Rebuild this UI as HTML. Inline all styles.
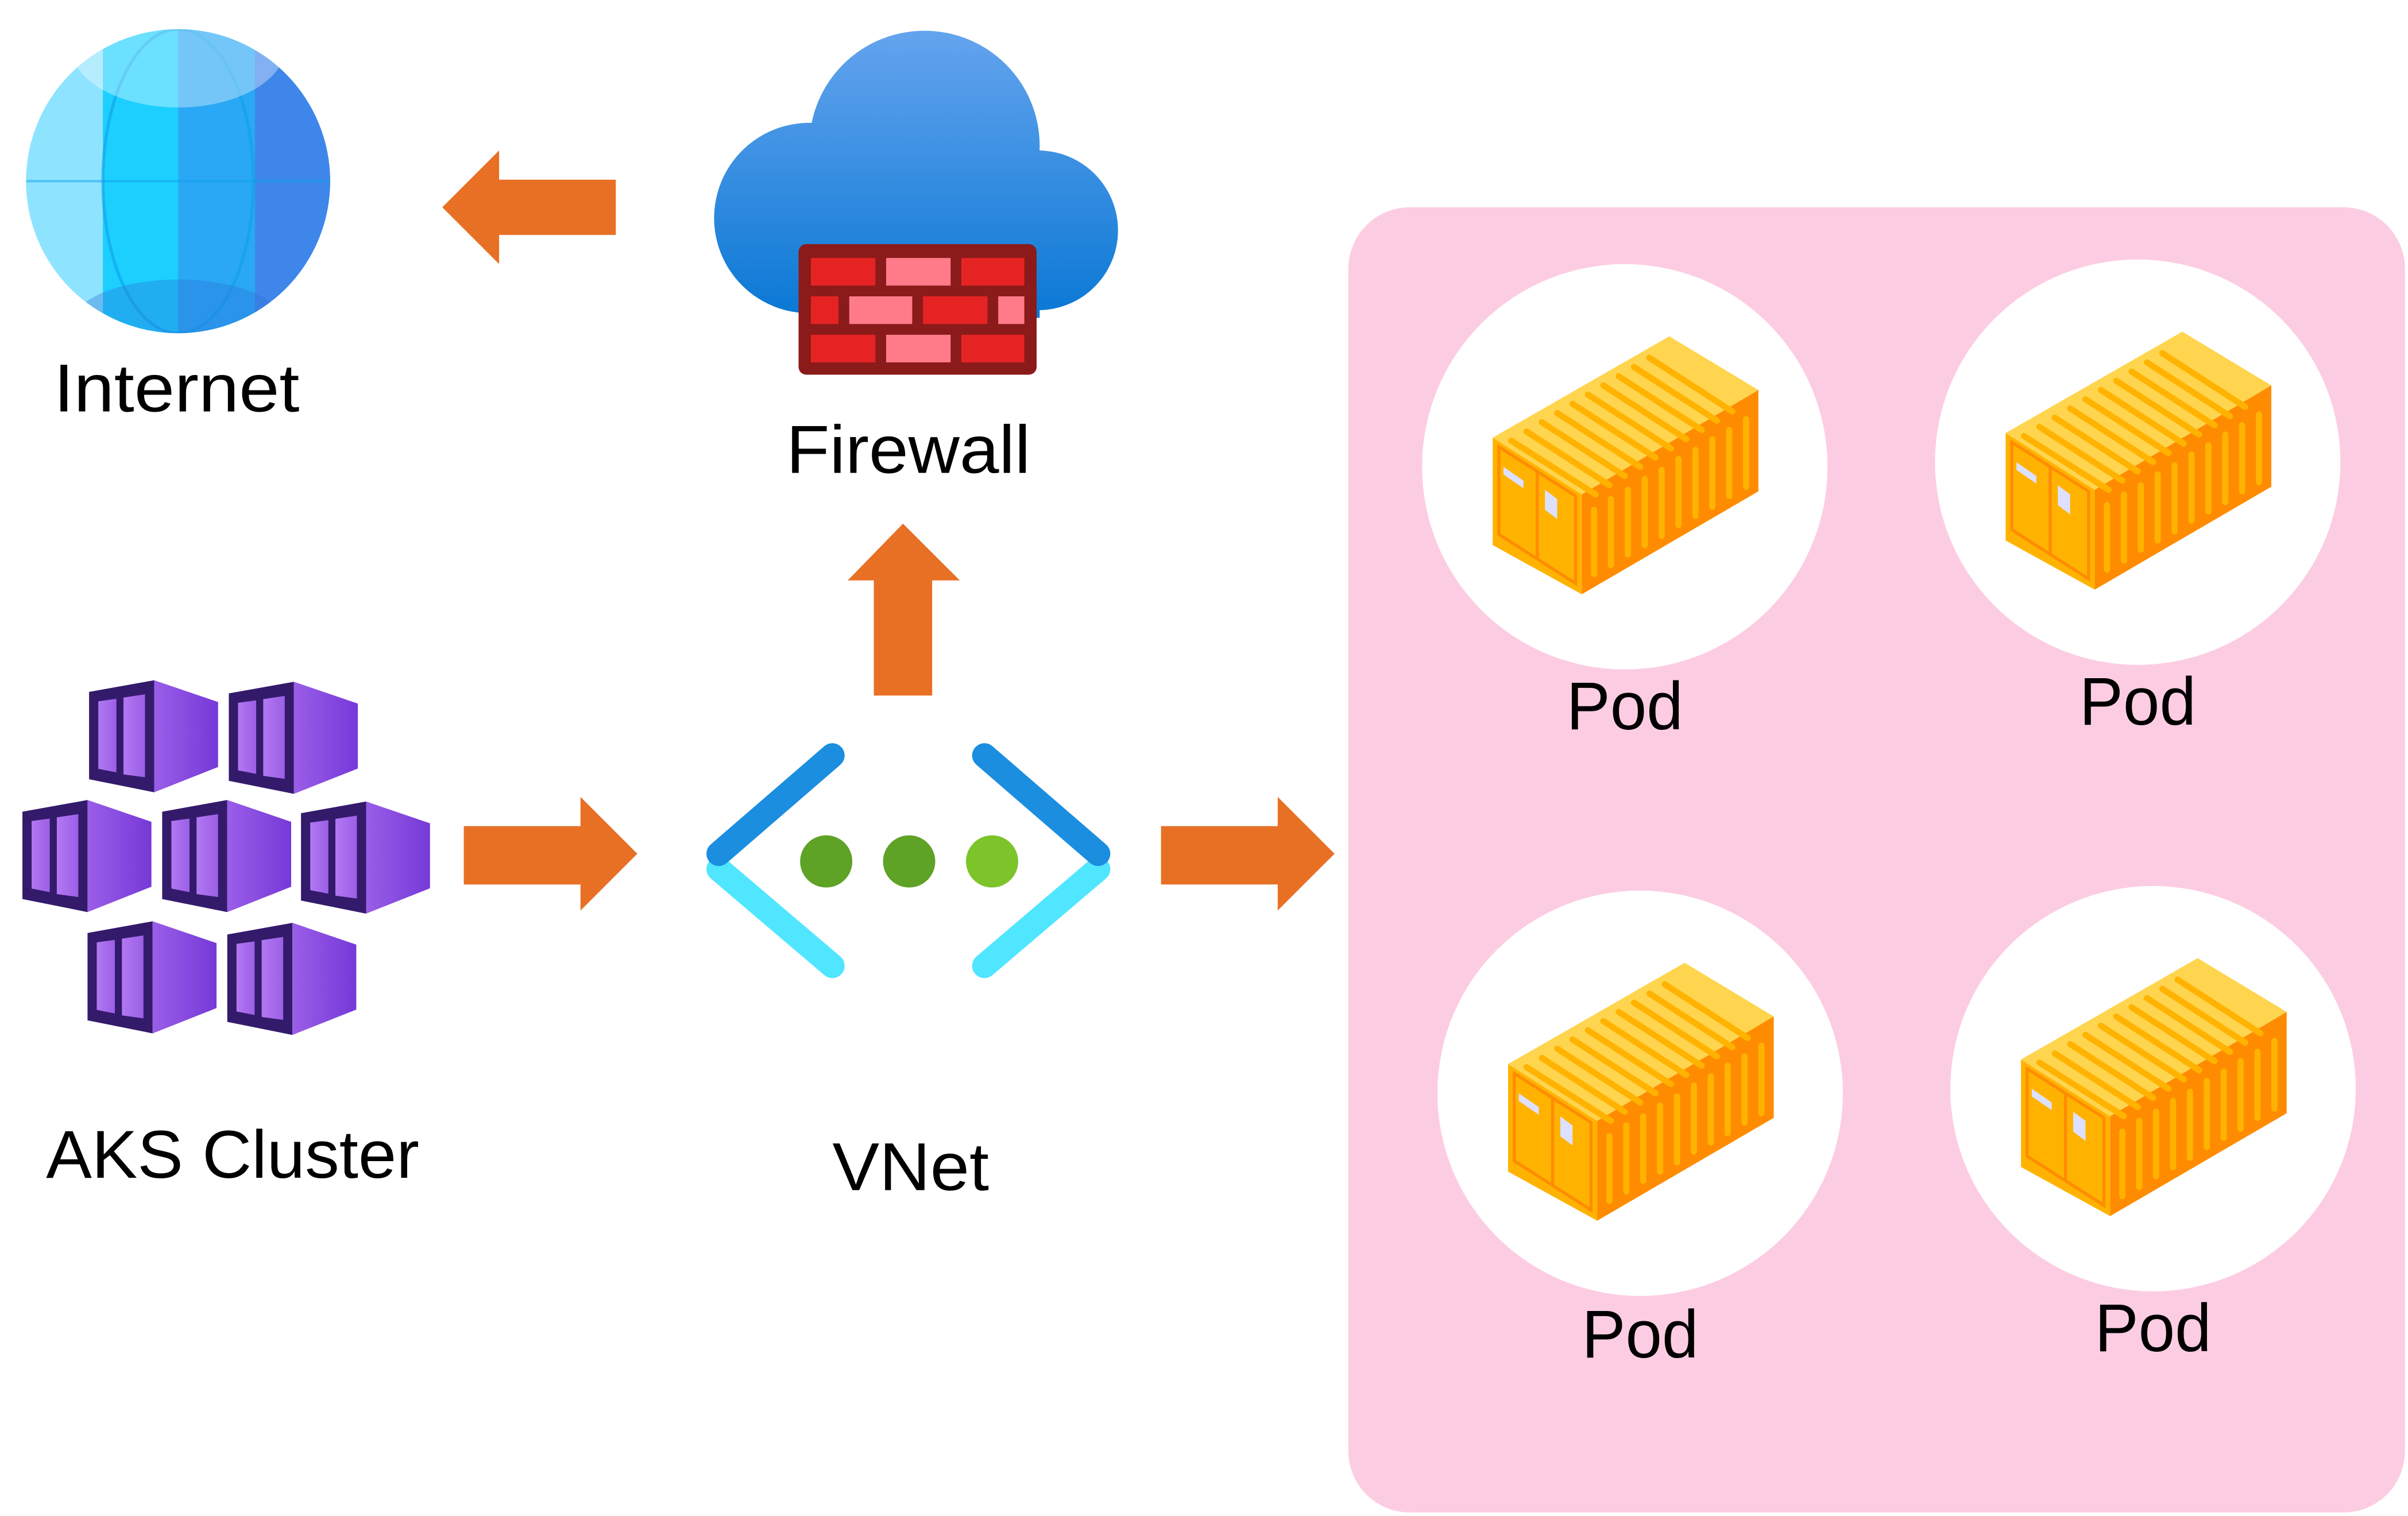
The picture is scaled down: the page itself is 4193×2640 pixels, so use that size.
<!DOCTYPE html>
<html><head><meta charset="utf-8"><style>
html,body{margin:0;padding:0;background:#fff;}
svg{display:block;}
text{font-family:"Liberation Sans",sans-serif;fill:#000;}
</style></head><body>
<svg width="4193" height="2640" viewBox="0 0 1568 987.3" preserveAspectRatio="none" xmlns="http://www.w3.org/2000/svg">
<defs>
<linearGradient id="cloudg" gradientUnits="userSpaceOnUse" x1="0" y1="20" x2="0" y2="207"><stop offset="0" stop-color="#64a4ee"/><stop offset="1" stop-color="#0a78d4"/></linearGradient>
<linearGradient id="sideg" x1="0" y1="0" x2="1" y2="0"><stop offset="0" stop-color="#9a5ee8"/><stop offset="1" stop-color="#7639d8"/></linearGradient>
<linearGradient id="wing" x1="0" y1="0" x2="1" y2="0"><stop offset="0" stop-color="#b278f2"/><stop offset="1" stop-color="#9b5fe6"/></linearGradient>
<clipPath id="gc"><circle cx="116" cy="118" r="99"/></clipPath>
<g id="cube">
<polygon points="0,7.6 42.4,0 42.4,73 0,64.5" fill="#341a6b"/>
<polygon points="42.4,0 84,14.2 84,56.5 42.4,73" fill="url(#sideg)"/>
<polygon points="6,13.7 17.8,12.1 17.8,60 6,57.7" fill="url(#wing)"/>
<polygon points="22.4,11.3 36.4,9.2 36.4,63.2 22.4,61.3" fill="url(#wing)"/>
</g>
<g id="box">
<polygon points="-86,-19 29,-85 87,-50 -28,18" fill="#ffd54f"/>
<polygon points="-28,18 87,-50 87,16 -28,83" fill="#ff8c00"/>
<polygon points="-86,-19 -28,18 -28,83 -86,51" fill="#ffb300"/>
<polygon points="-82,-13 -32,19 -32,76 -82,44" fill="none" stroke="#ff8c00" stroke-width="2"/>
<line x1="-57" y1="3" x2="-57" y2="60" stroke="#ff8c00" stroke-width="2"/>
<g stroke="#ffb300" stroke-width="4" stroke-linecap="round">
<line x1="-74" y1="-17" x2="-19" y2="18"/><line x1="-64" y1="-23" x2="-10" y2="12"/>
<line x1="-54" y1="-29" x2="0" y2="6"/><line x1="-44" y1="-35" x2="10" y2="0"/>
<line x1="-34" y1="-41" x2="20" y2="-6"/><line x1="-24" y1="-47" x2="30" y2="-12"/>
<line x1="-14" y1="-53" x2="40" y2="-18"/><line x1="-4" y1="-59" x2="50" y2="-24"/>
<line x1="6" y1="-65" x2="60" y2="-30"/><line x1="16" y1="-71" x2="70" y2="-36"/>
<line x1="-20" y1="28" x2="-20" y2="70"/><line x1="-9" y1="21" x2="-9" y2="64"/>
<line x1="2" y1="15" x2="2" y2="57"/><line x1="13" y1="8" x2="13" y2="51"/>
<line x1="24" y1="2" x2="24" y2="45"/><line x1="35" y1="-5" x2="35" y2="38"/>
<line x1="46" y1="-11" x2="46" y2="32"/><line x1="57" y1="-18" x2="57" y2="26"/>
<line x1="68" y1="-24" x2="68" y2="19"/><line x1="79" y1="-31" x2="79" y2="13"/>
</g>
<polygon points="-79,0 -66,9 -66,14 -79,5" fill="#dde0ff"/>
<polygon points="-52,15 -44,21 -44,34 -52,28" fill="#dde0ff"/>
</g>
</defs>

<!-- Globe -->
<g clip-path="url(#gc)">
<rect x="17" y="19" width="200" height="200" fill="#1ccfff"/>
<rect x="17" y="19" width="50" height="200" fill="#8ee4ff"/>
<rect x="116" y="19" width="50" height="200" fill="#2aa8f5"/>
<rect x="166" y="19" width="51" height="200" fill="#3f86ea"/>
<ellipse cx="116" cy="118" rx="49" ry="99" fill="none" stroke="#0fa0e8" stroke-width="2" opacity="0.6"/>
<ellipse cx="116" cy="30" rx="70" ry="40" fill="#ffffff" opacity="0.35"/>
<ellipse cx="116" cy="212" rx="70" ry="30" fill="#2b6fd8" opacity="0.35"/>
<line x1="17" y1="118" x2="216" y2="118" stroke="#0fa0e8" stroke-width="1.5" opacity="0.5"/>
</g>
<text x="35" y="268" font-size="44" textLength="160" lengthAdjust="spacingAndGlyphs">Internet</text>

<!-- Left arrow -->
<polygon points="288,135 325,98 325,117 401,117 401,153 325,153 325,172" fill="#e87025"/>

<!-- Cloud + firewall -->
<g fill="url(#cloudg)">
<circle cx="602" cy="95" r="75"/>
<circle cx="527" cy="142" r="62"/>
<circle cx="676" cy="150" r="52"/>
<rect x="527" y="110" width="150" height="97"/>
</g>
<rect x="520" y="159" width="155" height="85" rx="5" fill="#8b1a1a"/>
<g fill="#e62323">
<rect x="528" y="168" width="42" height="18"/><rect x="626" y="168" width="41" height="18"/>
<rect x="528" y="193" width="18" height="18"/><rect x="601" y="193" width="42" height="18"/>
<rect x="528" y="218" width="42" height="18"/><rect x="626" y="218" width="41" height="18"/>
</g>
<g fill="#ff7b8a">
<rect x="577" y="168" width="42" height="18"/><rect x="553" y="193" width="41" height="18"/>
<rect x="650" y="193" width="17" height="18"/><rect x="577" y="218" width="42" height="18"/>
</g>
<text x="512" y="308" font-size="44" textLength="159" lengthAdjust="spacingAndGlyphs">Firewall</text>

<!-- Up arrow -->
<polygon points="588,341 625,378 607,378 607,453 569,453 569,378 552,378" fill="#e87025"/>

<!-- AKS -->
<use href="#cube" x="58" y="443"/>
<use href="#cube" x="149" y="444"/>
<use href="#cube" x="14.6" y="521"/>
<use href="#cube" x="105.6" y="521"/>
<use href="#cube" x="196" y="522"/>
<use href="#cube" x="57" y="600"/>
<use href="#cube" x="148" y="601"/>
<text x="30" y="767" font-size="44" textLength="243" lengthAdjust="spacingAndGlyphs">AKS Cluster</text>

<!-- Right arrows -->
<polygon points="302,538 378,538 378,519 415,556 378,593 378,576 302,576" fill="#e87025"/>
<polygon points="756,538 832,538 832,519 869,556 832,593 832,576 756,576" fill="#e87025"/>

<!-- VNet -->
<g stroke-linecap="round" stroke-width="16">
<line x1="468" y1="566" x2="542" y2="629" stroke="#50e6ff"/>
<line x1="468" y1="556" x2="542" y2="492" stroke="#1b8ee0"/>
<line x1="715" y1="566" x2="641" y2="629" stroke="#50e6ff"/>
<line x1="715" y1="556" x2="641" y2="492" stroke="#1b8ee0"/>
</g>
<circle cx="538" cy="561" r="17" fill="#5ea226"/>
<circle cx="592" cy="561" r="17" fill="#5ea226"/>
<circle cx="646" cy="561" r="17" fill="#7cc42a"/>
<text x="542" y="775" font-size="44" textLength="102" lengthAdjust="spacingAndGlyphs">VNet</text>

<!-- Pink panel -->
<rect x="878" y="135" width="688" height="850" rx="40" fill="#fccde2"/>
<circle cx="1058" cy="304" r="132" fill="#fff"/>
<circle cx="1392" cy="301" r="132" fill="#fff"/>
<circle cx="1068" cy="712" r="132" fill="#fff"/>
<circle cx="1402" cy="709" r="132" fill="#fff"/>
<use href="#box" x="1058" y="304"/>
<use href="#box" x="1392" y="301"/>
<use href="#box" x="1068" y="712"/>
<use href="#box" x="1402" y="709"/>
<text x="1020" y="475" font-size="44" textLength="76" lengthAdjust="spacingAndGlyphs">Pod</text>
<text x="1354" y="472" font-size="44" textLength="76" lengthAdjust="spacingAndGlyphs">Pod</text>
<text x="1030" y="884" font-size="44" textLength="76" lengthAdjust="spacingAndGlyphs">Pod</text>
<text x="1364" y="880" font-size="44" textLength="76" lengthAdjust="spacingAndGlyphs">Pod</text>
</svg>
</body></html>
